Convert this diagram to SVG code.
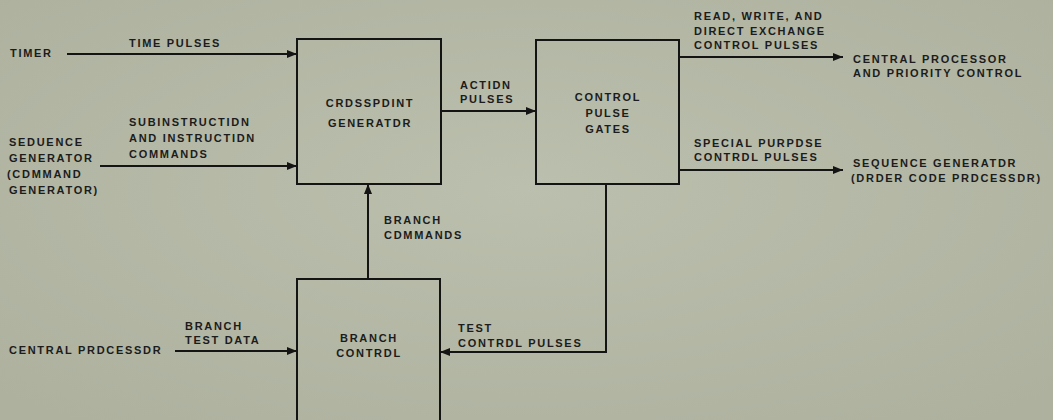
<svg xmlns="http://www.w3.org/2000/svg" width="1053" height="420" viewBox="0 0 1053 420">
<defs>
<radialGradient id="bg" cx="50%" cy="45%" r="70%">
<stop offset="0" stop-color="#bbbfad"/>
<stop offset="1" stop-color="#adb19e"/>
</radialGradient>
<marker id="ah" viewBox="0 0 10 8" refX="10" refY="4" markerWidth="10" markerHeight="8" markerUnits="userSpaceOnUse" orient="auto">
<path d="M0,0 L10,4 L0,8 Z" fill="#141414"/>
</marker>
<style>
text{font-family:"Liberation Sans",Arial,sans-serif;font-size:11px;font-weight:bold;fill:#1c1c1c;letter-spacing:1.7px}
.c{text-anchor:middle}
.box{fill:none;stroke:#141414;stroke-width:2}
.ln{fill:none;stroke:#141414;stroke-width:2;marker-end:url(#ah)}
</style>
</defs>
<rect width="1053" height="420" fill="url(#bg)"/>

<g id="connectors">
<path class="ln" d="M67,54 H297"/>
<path class="ln" d="M100,166 H297"/>
<path class="ln" d="M441,111 H536"/>
<path class="ln" d="M679,57 H843"/>
<path class="ln" d="M679,170 H843"/>
<path class="ln" d="M368,279 V184"/>
<path class="ln" d="M606,184 V352 H440"/>
<path class="ln" d="M175,351 H297"/>
<text x="129" y="47">TIME PULSES</text>
<text x="129" y="126">SUBINSTRUCTIDN</text>
<text x="129" y="142">AND INSTRUCTIDN</text>
<text x="129" y="158">COMMANDS</text>
<text x="460" y="89">ACTIDN</text>
<text x="460" y="103">PULSES</text>
<text x="694" y="20">READ, WRITE, AND</text>
<text x="694" y="35">DIRECT EXCHANGE</text>
<text x="694" y="49">CONTROL PULSES</text>
<text x="694" y="147">SPECIAL PURPDSE</text>
<text x="694" y="161">CONTRDL PULSES</text>
<text x="384" y="224">BRANCH</text>
<text x="384" y="239">CDMMANDS</text>
<text x="458" y="332">TEST</text>
<text x="458" y="347">CONTRDL PULSES</text>
<text x="185" y="330">BRANCH</text>
<text x="185" y="344">TEST DATA</text>
</g>

<g id="timer"><text x="10" y="57">TIMER</text></g>
<g id="sequence-generator-in">
<text x="9" y="146">SEDUENCE</text>
<text x="9" y="162">GENERATOR</text>
<text x="7" y="178">(CDMMAND</text>
<text x="9" y="194">GENERATOR)</text>
</g>
<g id="central-processor-in"><text x="9" y="354">CENTRAL PRDCESSDR</text></g>

<g id="crosspoint-generator">
<rect class="box" x="297" y="39" width="144" height="145"/>
<text class="c" x="370" y="107">CRDSSPDINT</text>
<text class="c" x="370" y="127">GENERATDR</text>
</g>

<g id="control-pulse-gates">
<rect class="box" x="536" y="40" width="143" height="144"/>
<text class="c" x="608" y="101">CONTROL</text>
<text class="c" x="608" y="117">PULSE</text>
<text class="c" x="608" y="133">GATES</text>
</g>

<g id="branch-control">
<path class="box" d="M297,425 V279 H440 V425"/>
<text class="c" x="369" y="342">BRANCH</text>
<text class="c" x="369" y="357">CONTRDL</text>
</g>

<g id="central-processor-out">
<text x="853" y="63">CENTRAL PROCESSOR</text>
<text x="853" y="77">AND PRIORITY CONTROL</text>
</g>
<g id="sequence-generator-out">
<text x="853" y="167">SEQUENCE GENERATDR</text>
<text x="851" y="182">(DRDER CODE PRDCESSDR)</text>
</g>
</svg>
